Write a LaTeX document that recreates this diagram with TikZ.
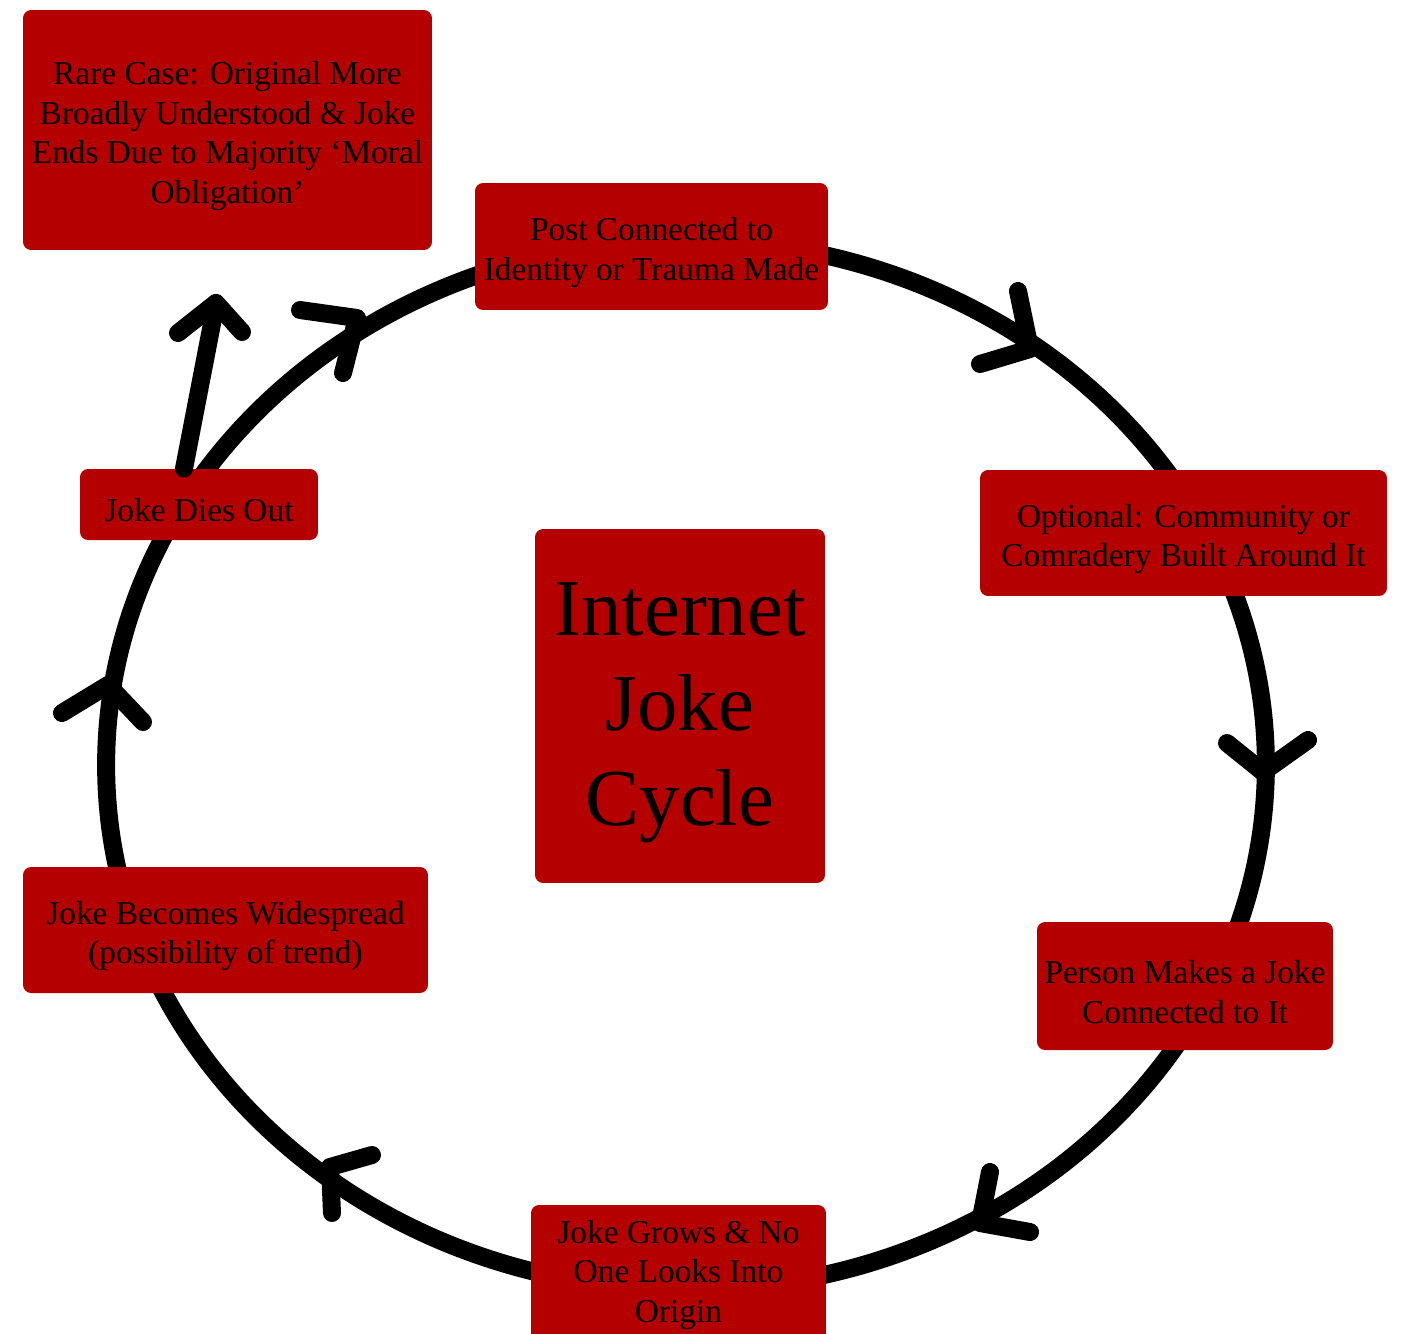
\documentclass[tikz,border=0pt]{standalone}
\usepackage{fontspec}
\setmainfont{Liberation Serif}
\definecolor{jokered}{RGB}{181,0,0}
\newcommand{\boxstrut}[1]{\rule{0pt}{#1}}

\begin{document}
\begin{tikzpicture}[
		x=0.02cm, y=-0.02cm,
		line join=round,
		line cap=round,
		wire/.style={black, line width=0.36cm},
		box/.style={fill=jokered, rounded corners=0.16cm, align=center, inner sep=0pt,
			font=\fontsize{19}{22.7}\selectfont},
		bigbox/.style={box, font=\fontsize{46}{54}\selectfont}
	]
	
	% Frame
	\useasboundingbox (0,0) rectangle (1404,1333);
	
	% The cycle
	\draw[wire] (686,765) ellipse [x radius=11.6cm, y radius=10.5cm];
	
	% Chevrons along the cycle (arm, tip, arm)
	\foreach \ax/\ay/\bx/\by/\cx/\cy in {
		300/310/357/318/343/373,
		1018/291/1030/349/980/364,
		1227/743/1263/772/1308/740,
		990/1172/980/1223/1030/1232,
		372/1155/330/1167/332/1213,
		62/713/108/685/143/722} {
		\draw[wire] (\ax,\ay) -- (\bx,\by) -- (\cx,\cy);
	}
	
	% Boxes
	\node[box, minimum width=8.18cm, minimum height=4.8cm] (rare) at (227.5,130)
		{\boxstrut{20pt}Rare Case: Original More\\Broadly Understood \& Joke\\Ends Due to Majority ‘Moral\\Obligation’};
	\node[box, minimum width=7.06cm, minimum height=2.54cm] (post) at (651.5,246.5)
		{\boxstrut{20pt}Post Connected to\\Identity or Trauma Made};
	\node[box, minimum width=8.14cm, minimum height=2.52cm] (community) at (1183.5,533)
		{\boxstrut{20pt}Optional: Community or\\Comradery Built Around It};
	\node[bigbox, minimum width=5.8cm, minimum height=7.08cm] (title) at (680,706)
		{\boxstrut{38pt}Internet\\Joke\\Cycle};
	\node[box, minimum width=5.92cm, minimum height=2.56cm] (person) at (1185,986)
		{\boxstrut{20pt}Person Makes a Joke\\Connected to It};
	\node[box, minimum width=5.9cm, minimum height=2.8cm] (grows) at (678.5,1275)
		{Joke Grows \& No\\One Looks Into\\Origin};
	\node[box, minimum width=8.1cm, minimum height=2.52cm] (spread) at (225.5,930)
		{\boxstrut{20pt}Joke Becomes Widespread\\(possibility of trend)};
	\node[box, minimum width=4.76cm, minimum height=1.42cm] (dies) at (199,504.5)
		{\boxstrut{20pt}Joke Dies Out};
	
	% Branch towards the rare case
	\coordinate (raretip) at (216,303);
	\draw[wire] ([xshift=-0.3cm]dies.north) -- (raretip);
	\draw[wire] (178,333) -- (raretip) -- (242,332);
	
\end{tikzpicture}
\end{document}
